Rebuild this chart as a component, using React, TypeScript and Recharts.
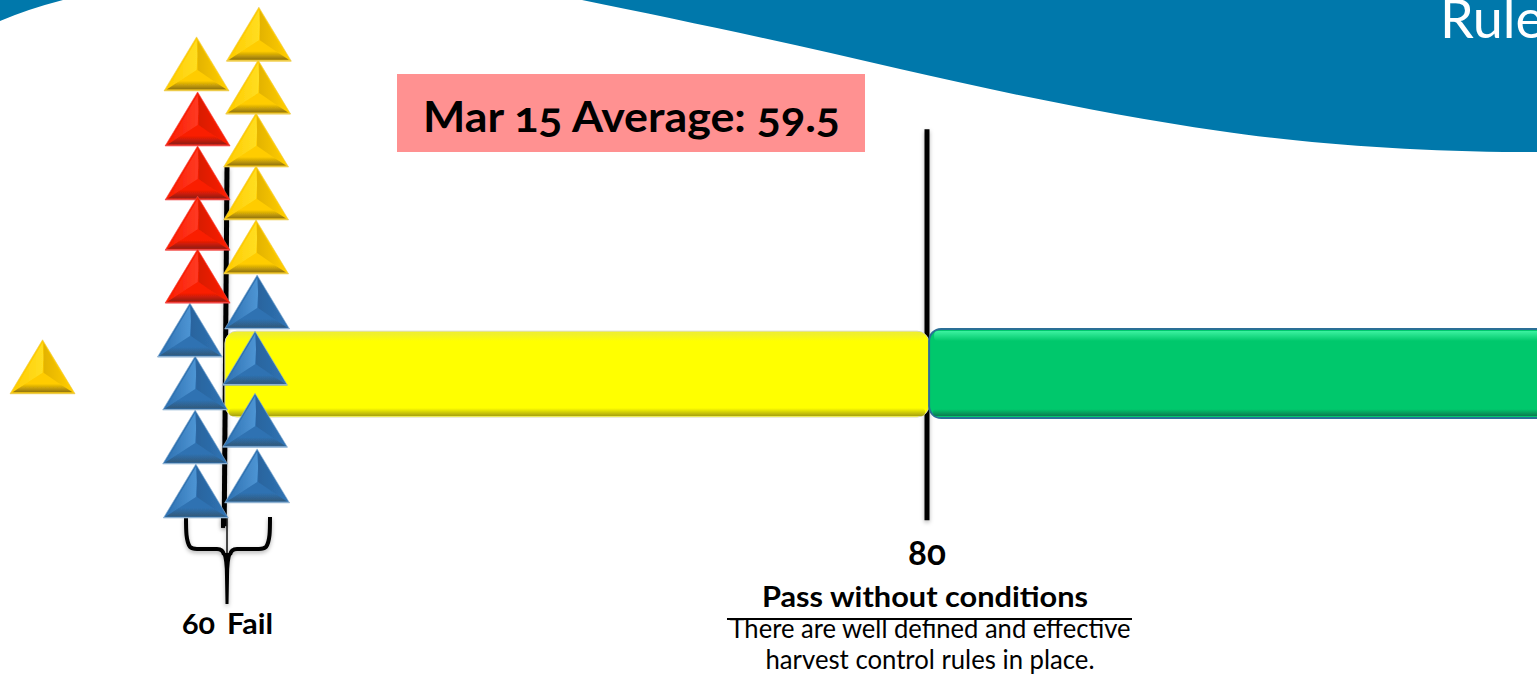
import React from 'react';
import { ComposedChart, XAxis, YAxis, Scatter, ReferenceArea, ReferenceLine, ReferenceDot } from 'recharts';

// x is the assessment score, y is the height in the pile, counted in triangles
const xDomain = [53.514, 97.429];
const yDomain = [-3.074, 9.593];

const yellowScores = [54.73, 59.13, 60.91, 60.89, 60.83, 60.83, 60.83];
const yellowLevels = [2.3, 7.91, 8.46, 7.48, 6.5, 5.52, 4.52];
const redScores = [59.16, 59.16, 59.16, 59.16];
const redLevels = [6.89, 5.89, 4.96, 3.98];
const blueScores = [58.94, 59.09, 59.09, 59.11, 60.86, 60.8, 60.8, 60.86];
const blueLevels = [2.98, 2.0, 1.0, 0.0, 3.5, 2.46, 1.31, 0.28];

const bandFrom = [59.94, 80.06];
const bandTo = [80.06, 100];
const bandTop = [3.46, 3.5];
const bandBottom = [1.87, 1.85];

const failScore = 60;
const passScore = 80;
const averageLabel = 'Mar 15 Average: 59.5';

const toPoints = (scores: number[], levels: number[]) => scores.map((score, i) => ({ score, level: levels[i] }));

const FONT = 'Lato, sans-serif';
const OLD_NUMS = { fontVariantNumeric: 'oldstyle-nums' } as React.CSSProperties;

const PALETTES = {
  yellow: { main: '#FFCC00', left: '#FFDE22', right: '#E3B300', dark: '#8F7210', rim: '#EDCB4A' },
  red: { main: '#FA1E00', left: '#FF3A24', right: '#D81A00', dark: '#8E1D16', rim: '#F04545' },
  blue: { main: '#2F72B2', left: '#4E95D4', right: '#29649E', dark: '#30597A', rim: '#8FB2D2' },
};
type Tone = keyof typeof PALETTES;
const TONES = Object.keys(PALETTES) as Tone[];

const Triangle = ({ cx, cy, tone }: { cx?: number; cy?: number; tone: Tone }) => {
  const c = PALETTES[tone];
  const pts = (list: number[][]) => list.map(([a, b]) => `${a},${b}`).join(' ');
  return (
    <g transform={`translate(${cx},${cy})`}>
      <polygon points={pts([[0, -54], [-32.5, 0], [32.5, 0]])} fill={c.main} stroke={c.rim} strokeWidth={0.6} />
      <g filter="url(#facet)">
        <polygon points={pts([[0, -51], [-29, -2], [-17, -10], [0, -21], [1, -36]])} fill={`url(#left-${tone})`} />
        <polygon points={pts([[1, -51], [29, -2], [17, -10], [1, -21], [1, -36]])} fill={`url(#right-${tone})`} />
        <polygon points={pts([[-30, -1.5], [30, -1.5], [17, -10], [-17, -10]])} fill={`url(#strip-${tone})`} />
      </g>
      <line x1={-32} y1={-0.5} x2={32} y2={-0.5} stroke={c.rim} strokeWidth={1.2} />
    </g>
  );
};

const StickLine = ({ x1, y1, x2, y2 }: any) => (
  <line x1={x1} y1={y1} x2={x2} y2={y2} stroke="#000" strokeWidth={5} filter="url(#soft)" />
);

const YellowBand = ({ x, y, width, height }: any) => (
  <g>
    <rect x={x} y={y} width={width} height={height} rx={12} fill="#FFFF00" stroke="#D6D6B8" strokeWidth={1} />
    <rect x={x + 5} y={y + 1} width={width - 10} height={9} rx={4} fill="url(#yellow-head)" />
    <rect x={x + 4} y={y + height - 9} width={width - 8} height={8} rx={4} fill="url(#yellow-foot)" />
  </g>
);

const GreenBand = ({ x, y, width, height }: any) => (
  <g>
    <rect x={x} y={y} width={width} height={height} rx={12} fill="#00C86C" stroke="#2A6F96" strokeWidth={2} />
    <rect x={x + 5} y={y + 2} width={width - 10} height={10} rx={4} fill="url(#green-head)" />
    <rect x={x + 4} y={y + height - 9} width={width - 8} height={7} rx={3} fill="url(#green-foot)" />
  </g>
);

const Brace = ({ cx, cy }: any) => (
  <g transform={`translate(${cx},${cy})`} filter="url(#soft)">
    <path
      d="M-41 0 C-41 14 -41 24 -37 30 Q-35 32 -30 32 L-10 32 Q-4 32 -3 38"
      fill="none"
      stroke="#000"
      strokeWidth={4}
    />
    <path
      d="M43 0 C43 14 43 24 39 30 Q37 32 32 32 L10 32 Q4 32 3 38"
      fill="none"
      stroke="#000"
      strokeWidth={4}
    />
    <path d="M-5 36 Q-2 42 -2 60 L-1.5 87 L1.5 87 L2 60 Q2 42 5 36 Z" fill="#000" />
    <rect x={-6} y={0} width={4} height={11} fill="#000" />
    <line x1={0} y1={0} x2={0} y2={36} stroke="#111" strokeWidth={1.5} />
  </g>
);

const FailLabel = ({ cx, cy }: any) => (
  <g transform={`translate(${cx},${cy})`} fontFamily={FONT} fontWeight={700} fontSize={29} fill="#000">
    <text x={-45} y={0} textLength={33} lengthAdjust="spacingAndGlyphs" style={OLD_NUMS}>
      {failScore}
    </text>
    <text x={0} y={0} textLength={46} lengthAdjust="spacingAndGlyphs">
      Fail
    </text>
  </g>
);

const PassLabel = ({ cx, cy }: any) => (
  <g transform={`translate(${cx},${cy})`} fontFamily={FONT} fill="#000" textAnchor="middle">
    <text x={0} y={0} fontSize={35} fontWeight={700} style={OLD_NUMS}>
      {passScore}
    </text>
    <text x={-2} y={42} fontSize={29} fontWeight={700} textLength={326} lengthAdjust="spacingAndGlyphs">
      Pass without conditions
    </text>
    <line x1={-200} y1={54} x2={205} y2={54} stroke="#000" strokeWidth={2} />
    <text x={3} y={73} fontSize={27} textLength={401} lengthAdjust="spacingAndGlyphs">
      There are well defined and effective
    </text>
    <text x={3} y={104} fontSize={27} textLength={329} lengthAdjust="spacingAndGlyphs">
      harvest control rules in place.
    </text>
  </g>
);

const vertical = (id: string, from: string, to: string) => (
  <linearGradient key={id} id={id} x1="0" y1="0" x2="0" y2="1">
    <stop offset="0%" stopColor={from} />
    <stop offset="100%" stopColor={to} />
  </linearGradient>
);

const horizontal = (id: string, from: string, to: string) => (
  <linearGradient key={id} id={id} x1="0" y1="0" x2="1" y2="0">
    <stop offset="0%" stopColor={from} />
    <stop offset="100%" stopColor={to} />
  </linearGradient>
);

export default function App() {
  return (
    <div style={{ position: 'absolute', left: 0, top: 0, width: 1537, height: 684, background: '#fff' }}>
      <ComposedChart width={1537} height={684} margin={{ top: 0, right: 0, bottom: 0, left: 0 }}>
        <defs>
          {/* user space region, a straight vertical line has an empty bounding box */}
          <filter id="soft" filterUnits="userSpaceOnUse" x={-1600} y={-800} width={3200} height={1600}>
            <feDropShadow dx={0} dy={2} stdDeviation={2} floodColor="#000" floodOpacity={0.3} />
          </filter>
          <filter id="facet" x="-10%" y="-10%" width="120%" height="120%">
            <feGaussianBlur stdDeviation={0.5} />
          </filter>
          {TONES.map((t) => horizontal(`left-${t}`, PALETTES[t].main, PALETTES[t].left))}
          {TONES.map((t) => horizontal(`right-${t}`, PALETTES[t].right, PALETTES[t].main))}
          {TONES.map((t) => vertical(`strip-${t}`, PALETTES[t].main, PALETTES[t].dark))}
          {vertical('yellow-head', '#ECEC38', '#FFFF00')}
          {vertical('yellow-foot', '#FFFF00', '#A8A210')}
          {vertical('green-head', '#3CF2A0', '#00C86C')}
          {vertical('green-foot', '#00C86C', '#0B7A50')}
        </defs>

        {/* header wave and its clipped title */}
        <path d="M0 21 Q28 9 63 0 L0 0 Z" fill="#0078AB" />
        <path d="M582 0 C680 20 790 43 900 69 C1000 92 1110 115 1220 131 C1300 143 1420 153 1537 152 L1537 0 Z" fill="#0078AB" />
        <text x={1440} y={38} fontFamily={FONT} fontSize={54} fontWeight={400} fill="#fff">
          Rule
        </text>

        <XAxis type="number" dataKey="score" domain={xDomain} hide allowDataOverflow />
        <YAxis type="number" dataKey="level" domain={yDomain} hide allowDataOverflow />

        <ReferenceLine
          segment={[{ x: failScore, y: 6.5 }, { x: failScore - 0.08, y: -0.15 }]}
          shape={StickLine}
          ifOverflow="visible"
          zIndex={50}
        />
        <ReferenceLine
          segment={[{ x: passScore, y: 7.2 }, { x: passScore, y: -0.04 }]}
          shape={StickLine}
          ifOverflow="visible"
          zIndex={50}
        />

        <ReferenceArea x1={bandFrom[0]} x2={bandTo[0]} y1={bandBottom[0]} y2={bandTop[0]} shape={YellowBand} ifOverflow="visible" zIndex={100} />
        <ReferenceArea x1={bandFrom[1]} x2={bandTo[1]} y1={bandBottom[1]} y2={bandTop[1]} shape={GreenBand} ifOverflow="visible" zIndex={100} />

        <ReferenceDot x={failScore} y={0.02} shape={Brace} ifOverflow="visible" />
        <ReferenceDot x={failScore} y={-2.15} shape={FailLabel} ifOverflow="visible" />
        <ReferenceDot x={passScore} y={-0.87} shape={PassLabel} ifOverflow="visible" />

        <Scatter data={toPoints(blueScores, blueLevels)} shape={<Triangle tone="blue" />} isAnimationActive={false} />
        <Scatter data={toPoints(redScores, redLevels)} shape={<Triangle tone="red" />} isAnimationActive={false} />
        <Scatter data={toPoints(yellowScores, yellowLevels)} shape={<Triangle tone="yellow" />} isAnimationActive={false} />

        <rect x={397} y={74} width={468} height={78} fill="#FF9191" />
        <text x={423} y={132} fontFamily={FONT} fontSize={42} fontWeight={700} fill="#000" textLength={417} lengthAdjust="spacingAndGlyphs" style={OLD_NUMS}>
          {averageLabel}
        </text>
      </ComposedChart>
    </div>
  );
}
